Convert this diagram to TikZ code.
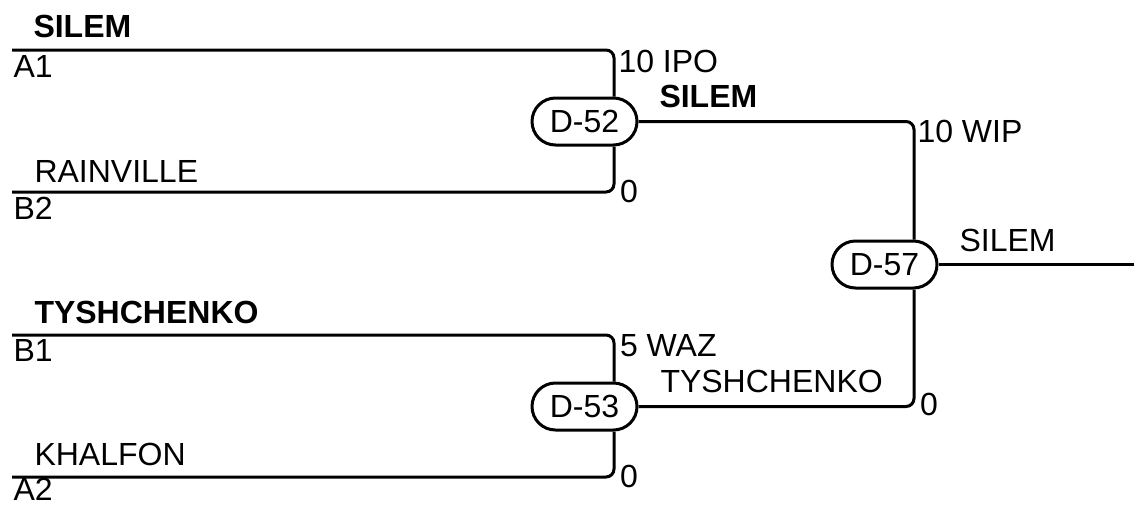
\documentclass[tikz,border=0pt]{standalone}
\usepackage{fontspec}
\setmainfont{Liberation Sans}
\begin{document}
\begin{tikzpicture}[x=0.5pt,y=-0.5pt,line width=1.5pt,
    font=\fontsize{16}{19}\selectfont,
    lbl/.style={anchor=base west,inner sep=0pt},
    match/.style={draw,rounded corners=11.75pt,minimum width=52.5pt,minimum height=23.5pt,inner sep=0pt},
    bracket/.style={rounded corners=4pt}]
  \useasboundingbox (0,0) rectangle (1134,504);
  \node[match] (d52) at (584.5,121.5) {D-52};
  \node[match] (d53) at (584.5,406.5) {D-53};
  \node[match] (d57) at (884.5,264.5) {D-57};
  \coordinate (a1) at (12,50);
  \coordinate (b2) at (12,192);
  \coordinate (b1) at (12,335);
  \coordinate (a2) at (12,477);
  \coordinate (j1) at (614,0);
  \coordinate (j2) at (914,0);
  \coordinate (out) at (1134,0);
  \draw[bracket] (a1) -| (d52.north -| j1);
  \draw[bracket] (b2) -| (d52.south -| j1);
  \draw[bracket] (b1) -| (d53.north -| j1);
  \draw[bracket] (a2) -| (d53.south -| j1);
  \draw[bracket] (d52.east) -| (d57.north -| j2);
  \draw[bracket] (d53.east) -| (d57.south -| j2);
  \draw (d57.east) -- (d57.east -| out);
  \node[lbl,font=\fontsize{16}{19}\selectfont\bfseries] (silemA) at (32,37) {SILEM};
  \node[lbl] (a1lbl) at (12,77) {A1};
  \node[lbl] (rainville) at (33,182) {RAINVILLE};
  \node[lbl] (b2lbl) at (12,219) {B2};
  \node[lbl,font=\fontsize{16}{19}\selectfont\bfseries] (tyshA) at (33,323) {TYSHCHENKO};
  \node[lbl] (b1lbl) at (12,361) {B1};
  \node[lbl] (khalfon) at (33,465) {KHALFON};
  \node[lbl] (a2lbl) at (12,500) {A2};
  \node[lbl] (s1) at (617,72) {10 IPO};
  \node[lbl] (s2) at (618.5,202) {0};
  \node[lbl] (s3) at (618.5,356) {5 WAZ};
  \node[lbl] (s4) at (618.5,487) {0};
  \node[lbl,font=\fontsize{16}{19}\selectfont\bfseries] (silemB) at (658,107) {SILEM};
  \node[lbl] (tyshB) at (659,392) {TYSHCHENKO};
  \node[lbl] (s5) at (916,142) {10 WIP};
  \node[lbl] (s6) at (918.5,415) {0};
  \node[lbl] (silemC) at (958,251) {SILEM};
\end{tikzpicture}
\end{document}
